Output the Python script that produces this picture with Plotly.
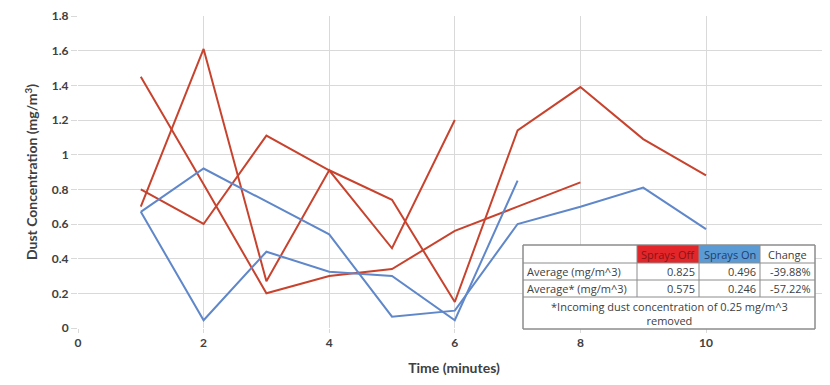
import plotly.graph_objects as go

# ---- data ----
time_off_1 = [1, 2, 3, 4, 5, 6, 7, 8]
off_1 = [1.45, 0.83, 0.20, 0.30, 0.34, 0.56, 0.70, 0.84]

time_off_2 = [1, 2, 3, 4, 5, 6]
off_2 = [0.70, 1.61, 0.27, 0.91, 0.46, 1.20]

time_off_3 = [1, 2, 3, 4, 5, 6, 7, 8, 9, 10]
off_3 = [0.80, 0.60, 1.11, 0.91, 0.74, 0.15, 1.14, 1.39, 1.09, 0.88]

time_on_1 = [1, 2, 3, 4, 5, 6, 7, 8, 9, 10]
on_1 = [0.67, 0.92, 0.73, 0.54, 0.065, 0.10, 0.60, 0.70, 0.81, 0.57]

time_on_2 = [1, 2, 3, 4, 5, 6, 7]
on_2 = [0.67, 0.045, 0.44, 0.325, 0.30, 0.045, 0.85]

y_ticks = [0, 0.2, 0.4, 0.6, 0.8, 1, 1.2, 1.4, 1.6, 1.8]
x_ticks = [0, 2, 4, 6, 8, 10]

table_header = ["", "Sprays Off", "Sprays On", "Change"]
table_rows = [
    ["Average (mg/m^3)", "0.825", "0.496", "-39.88%"],
    ["Average* (mg/m^3)", "0.575", "0.246", "-57.22%"],
]
table_note = "*Incoming dust concentration of 0.25 mg/m^3<br>removed"

RED = "#c8432e"
BLUE = "#5f87c9"

fig = go.Figure()
for t, v in [(time_off_1, off_1), (time_off_2, off_2), (time_off_3, off_3)]:
    fig.add_trace(go.Scatter(x=t, y=v, mode="lines", line=dict(color=RED, width=2), showlegend=False))
for t, v in [(time_on_1, on_1), (time_on_2, on_2)]:
    fig.add_trace(go.Scatter(x=t, y=v, mode="lines", line=dict(color=BLUE, width=2), showlegend=False))

OFF = 8                      # default page body margin
W, H = 830 - OFF, 385 - OFF  # visible figure area
PL, PR, PT, PB = 78, 830, 16, 328   # plot area in page pixels
L, R, T, B = PL - OFF, 0, PT - OFF, 385 - PB
PW, PH = PR - PL, PB - PT
XSCALE = 62.8  # px per minute in reference
x_max = PW / XSCALE

def px(x):  # page pixel -> paper
    return (x - PL) / PW

def py(y):
    return (PB - y) / PH

font_fam = "Lato, 'Open Sans', sans-serif"
tick_font = dict(family=font_fam, size=12, color="#404040", weight="bold")
title_font = dict(family=font_fam, size=14, color="#404040", weight="bold")

fig.update_layout(
    width=W, height=H,
    margin=dict(l=L, r=R, t=T, b=B, autoexpand=False),
    paper_bgcolor="white", plot_bgcolor="white",
    xaxis=dict(
        range=[0, x_max], tickvals=x_ticks, showgrid=True, gridcolor="#d9d9d9", gridwidth=1,
        zeroline=False, showline=False, ticks="outside", ticklen=4, tickcolor="#d9d9d9",
        tickfont=tick_font, automargin=False,
        title=dict(text="Time (minutes)", font=title_font, standoff=13),
    ),
    yaxis=dict(
        range=[0, 1.8], tickvals=y_ticks, showgrid=True, gridcolor="#d9d9d9", gridwidth=1,
        zeroline=False, showline=False, ticks="outside", ticklen=6, tickcolor="#d9d9d9",
        tickfont=tick_font, automargin=False,
        title=dict(text="Dust Concentration (mg/m<sup>3</sup>)", font=title_font, standoff=10),
    ),
)

# clipped "12" tick label at the right edge (as in the reference)
fig.add_annotation(x=12 / x_max, y=0, xref="paper", yref="paper", text="12", showarrow=False,
                   xanchor="center", yanchor="top", yshift=-4, font=tick_font)

# ---- summary table (drawn with shapes + text), page-pixel positions ----
cols = [523, 637, 699, 760, 815]
rows = [245, 263, 280, 297, 329]
line_col = "#8c8c8c"
tfont = dict(family="'Liberation Sans Narrow', 'Open Sans', sans-serif", size=11, color="#404040")

fig.add_shape(type="rect", xref="paper", yref="paper", x0=px(cols[0]), x1=px(cols[-1]),
              y0=py(rows[-1]), y1=py(rows[0]), fillcolor="white", line=dict(color=line_col, width=1), layer="above")
fig.add_shape(type="rect", xref="paper", yref="paper", x0=px(cols[1]), x1=px(cols[2]),
              y0=py(rows[1]), y1=py(rows[0]), fillcolor="#e3262a", line=dict(width=0), layer="above")
fig.add_shape(type="rect", xref="paper", yref="paper", x0=px(cols[2]), x1=px(cols[3]),
              y0=py(rows[1]), y1=py(rows[0]), fillcolor="#5b9bd5", line=dict(width=0), layer="above")
for ry in rows[1:-1]:
    fig.add_shape(type="line", xref="paper", yref="paper", x0=px(cols[0]), x1=px(cols[-1]),
                  y0=py(ry), y1=py(ry), line=dict(color=line_col, width=1), layer="above")
for cx in cols[1:-1]:
    fig.add_shape(type="line", xref="paper", yref="paper", x0=px(cx), x1=px(cx),
                  y0=py(rows[3]), y1=py(rows[0]), line=dict(color=line_col, width=1), layer="above")
fig.add_shape(type="rect", xref="paper", yref="paper", x0=px(cols[0]), x1=px(cols[-1]),
              y0=py(rows[-1]), y1=py(rows[0]), fillcolor="rgba(0,0,0,0)", line=dict(color=line_col, width=1), layer="above")

header_colors = [None, "#8a1414", "#1f3d6e", "#404040"]
for j, txt in enumerate(table_header):
    if not txt:
        continue
    fig.add_annotation(x=px((cols[j] + cols[j + 1]) / 2), y=py((rows[0] + rows[1]) / 2), xref="paper", yref="paper",
                       text=txt, showarrow=False, xanchor="center", yanchor="middle",
                       font=dict(tfont, color=header_colors[j]))
for i, row in enumerate(table_rows):
    yc = py((rows[i + 1] + rows[i + 2]) / 2)
    for j, txt in enumerate(row):
        if j == 0:
            fig.add_annotation(x=px(cols[0] + 2), y=yc, xref="paper", yref="paper", text=txt, showarrow=False,
                               xanchor="left", yanchor="middle", font=tfont)
        else:
            fig.add_annotation(x=px(cols[j + 1] - 2), y=yc, xref="paper", yref="paper", text=txt, showarrow=False,
                               xanchor="right", yanchor="middle", font=tfont)
fig.add_annotation(x=px((cols[0] + cols[-1]) / 2), y=py((rows[3] + rows[4]) / 2), xref="paper", yref="paper",
                   text=table_note, showarrow=False, xanchor="center", yanchor="middle", font=tfont)

fig.write_html("out.html")
